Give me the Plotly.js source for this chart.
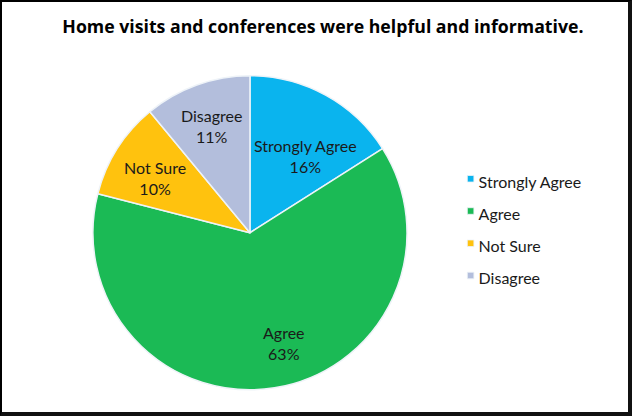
<!DOCTYPE html>
<html><head><meta charset="utf-8">
<script src="https://cdn.plot.ly/plotly-3.0.1.min.js"></script>
<style>html,body{margin:0;padding:0;background:#fff}#wrap{position:relative;width:632px;height:416px}#chart{width:632px;height:416px}#frame{position:absolute;left:0;top:0;width:632px;height:416px;box-sizing:border-box;border-left:2px solid #000;border-top:2px solid #000;border-right:4px solid #111;border-bottom:4px solid #111;pointer-events:none}</style>
</head><body><div id="wrap"><div id="chart"></div><div id="frame"></div></div>
<script>
const categories = ["Strongly Agree", "Agree", "Not Sure", "Disagree"];
const values = [16, 63, 10, 11];
const colors = ["#0AB4EE", "#1BBA55", "#FFC20E", "#B3BEDC"];
const titleText = "Home visits and conferences were helpful and informative.";

// label placement (style): radial fraction of radius and angular nudge (deg) per slice label
const labelRadius = [0.6, 0.733, 0.7, 0.72];
const labelNudge = [7, -8.2, -2.4, 0];
const FONT = "Lato, 'Open Sans', sans-serif";

const dom = {x: [0.147, 0.644], y: [0.063, 0.818]};
const W = 632, H = 416;
const cx = (dom.x[0] + dom.x[1]) / 2 * W;
const cy = H - (dom.y[0] + dom.y[1]) / 2 * H;
const R = Math.min((dom.x[1] - dom.x[0]) * W, (dom.y[1] - dom.y[0]) * H) / 2;
const total = values.reduce((a, b) => a + b, 0);
let cum = 0;
const annotations = categories.map((c, i) => {
  const mid = (cum + values[i] / 2) / total * 2 * Math.PI + labelNudge[i] * Math.PI / 180;
  cum += values[i];
  const px = cx + labelRadius[i] * R * Math.sin(mid);
  const py = cy - labelRadius[i] * R * Math.cos(mid);
  return {x: px / W, y: 1 - py / H, xref: "paper", yref: "paper", showarrow: false,
          xanchor: "center", yanchor: "middle",
          text: c + "<br>" + Math.round(values[i] / total * 100) + "%",
          font: {family: FONT, size: 16, color: "#1a1a1a"}, align: "center"};
});
const legendLabels = categories.map(c => '<span style="font-size:16px">' + c + '</span>');

Plotly.newPlot("chart", [{
  type: "pie",
  labels: legendLabels,
  values: values,
  sort: false,
  direction: "clockwise",
  rotation: 0,
  marker: {colors: colors, line: {color: "#EEF3F8", width: 1.5}},
  textinfo: "none",
  textposition: "none",
  domain: dom,
  hoverinfo: "none"
}], {
  width: W, height: H,
  margin: {l: 0, r: 0, t: 0, b: 0},
  paper_bgcolor: "#fff",
  title: {text: "<b>" + titleText + "</b>", x: 0.511, xanchor: "center", y: 0.935, yanchor: "middle",
          font: {family: "'Open Sans', sans-serif", size: 17.7, color: "#000"}},
  annotations: annotations,
  showlegend: true,
  legend: {x: 0.694, y: 0.454, xanchor: "left", yanchor: "middle",
           font: {family: FONT, size: 22.5, color: "#1a1a1a"},
           traceorder: "normal", itemwidth: 30}
}, {displayModeBar: false, staticPlot: true}).then(() => {
  document.querySelectorAll("#chart .legendpoints path").forEach(p => {
    p.setAttribute("transform", "translate(32,0) scale(0.55)");
  });
});
</script></body></html>
